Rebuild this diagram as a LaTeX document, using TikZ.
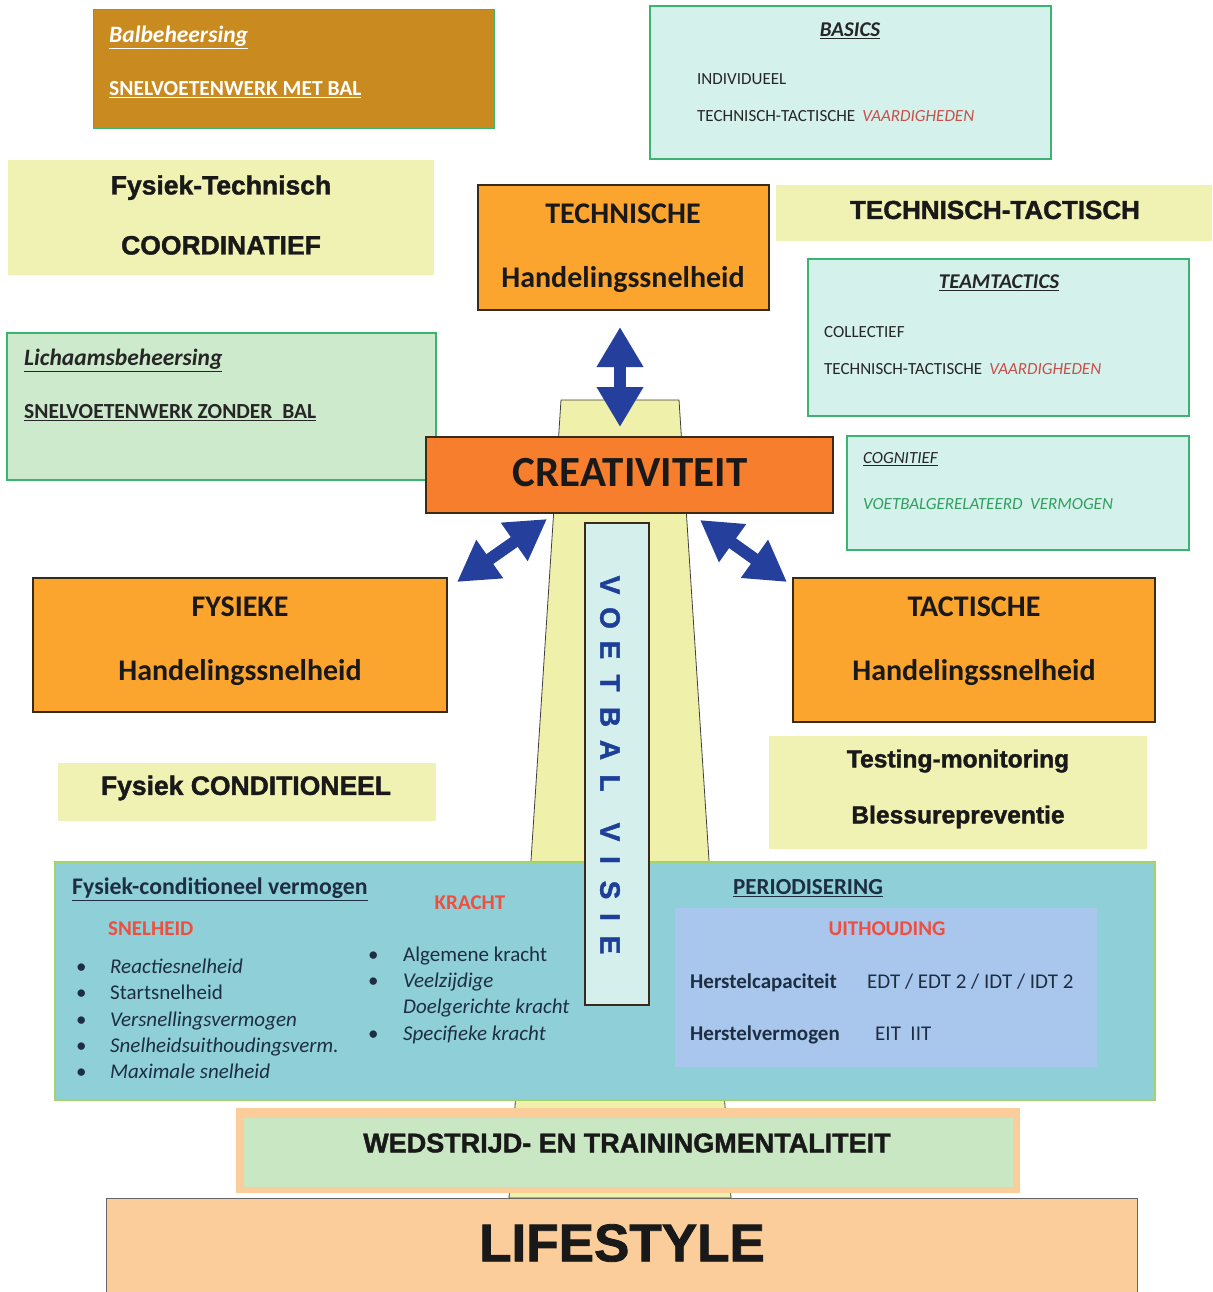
\documentclass[tikz,border=0pt]{standalone}
\usepackage{fontspec}
\setmainfont{Carlito}
\newfontfamily\arialfont[BoldFeatures={FakeBold=1.5}]{Liberation Sans}
\usetikzlibrary{arrows.meta}

\definecolor{goldfill}{HTML}{C98A1F}
\definecolor{tealfill}{HTML}{D4F1EC}
\definecolor{greenfill}{HTML}{CDEBCC}
\definecolor{greenedge}{HTML}{3DB371}
\definecolor{yellowfill}{HTML}{F0F2B3}
\definecolor{pillarfill}{HTML}{EFF0AA}
\definecolor{orangefill}{HTML}{FBA52E}
\definecolor{creatfill}{HTML}{F67E2C}
\definecolor{stripfill}{HTML}{D4EFEC}
\definecolor{bandfill}{HTML}{8FCFD7}
\definecolor{bandedge}{HTML}{A2D46A}
\definecolor{uithfill}{HTML}{A9C7EC}
\definecolor{peach}{HTML}{FBCD9A}
\definecolor{mentalgreen}{HTML}{C9E7C2}
\definecolor{arrowblue}{HTML}{243F9C}
\definecolor{visieblue}{HTML}{1E3F99}
\definecolor{redtxt}{HTML}{F04E3E}
\definecolor{vaard}{HTML}{C8504A}
\definecolor{cogngreen}{HTML}{2F9F5E}
\definecolor{navy}{HTML}{1E2E42}
\definecolor{edgedark}{HTML}{3A2A1A}

\newcommand{\fs}[1]{\fontsize{#1}{#1}\selectfont}

\begin{document}
\begin{tikzpicture}[x=1pt,y=-1pt,
    box/.style={anchor=north west, inner sep=0pt, outer sep=0pt},
    orangebox/.style={box, fill=orangefill, draw=edgedark, line width=1.2pt},
    tealbox/.style={box, fill=tealfill, draw=greenedge, line width=1.2pt},
    yellowbox/.style={box, fill=yellowfill},
    txt/.style={anchor=mid west, inner sep=0pt, yshift=-5pt, text=black!85},
    ctxt/.style={txt, anchor=mid},
    bandtxt/.style={txt, text=navy, font=\fs{21}},
    heavy/.style={align=center, inner sep=0pt, text=black!90},
    bigtxt/.style={heavy, font=\bfseries\fontsize{30}{64}\selectfont},
    visie/.style={rotate=-90, inner sep=0pt, text=visieblue, font=\arialfont\bfseries\fs{28}},
    dblarrow/.style={draw=arrowblue, line width=12pt,
        {Triangle[width=44pt,length=40pt]}-{Triangle[width=44pt,length=40pt]}},
]
\useasboundingbox (0,0) rectangle (1212,1292);

% pillar behind everything
\draw[fill=pillarfill, draw=black!75, line width=0.8pt]
    (561,400) -- (679,400) -- (731,1198) -- (509,1198) -- cycle;

% top left
\node[box, fill=goldfill, draw=greenedge, line width=1pt, minimum width=401, minimum height=119] (bal) at (93,10) {};
\node[txt, text=white, font=\bfseries\itshape\fs{23.5}] (balA) at (109,35) {\underline{Balbeheersing}};
\node[txt, text=white, font=\bfseries\fs{21.5}] (balB) at (109,88) {\underline{SNELVOETENWERK MET BAL}};

\node[yellowbox, minimum width=426, minimum height=115] (fystech) at (8,160) {};
\node[heavy, font=\arialfont\bfseries\fontsize{26.5}{60}\selectfont] (fystechT) at (221,215) {Fysiek-Technisch\\COORDINATIEF};

\node[box, fill=greenfill, draw=greenedge, line width=1.2pt, minimum width=429, minimum height=147] (lich) at (7,333) {};
\node[txt, font=\bfseries\itshape\fs{23.5}] (lichA) at (24,358) {\underline{Lichaamsbeheersing}};
\node[txt, font=\bfseries\fs{21.5}] (lichB) at (24,411) {\underline{SNELVOETENWERK ZONDER\ \ BAL}};

% top right
\node[tealbox, minimum width=401, minimum height=153] (basics) at (650,6) {};
\node[ctxt, font=\bfseries\itshape\fs{21}] (basA) at (850,29) {\underline{BASICS}};
\node[txt, font=\fs{17}] (basB) at (697,77) {INDIVIDUEEL};
\node[txt, font=\fs{17}] (basC) at (697,114) {TECHNISCH-TACTISCHE\hspace{7pt}\textcolor{vaard}{\itshape VAARDIGHEDEN}};

\node[yellowbox, minimum width=436, minimum height=56] (techtact) at (776,185) {};
\node[heavy, font=\arialfont\bfseries\fs{26}] (techtactT) at (995,210) {TECHNISCH-TACTISCH};

\node[tealbox, minimum width=381, minimum height=157] (team) at (808,259) {};
\node[ctxt, font=\bfseries\itshape\fs{21}] (teamA) at (999,281) {\underline{TEAMTACTICS}};
\node[txt, font=\fs{17}] (teamB) at (824,330) {COLLECTIEF};
\node[txt, font=\fs{17}] (teamC) at (824,367) {TECHNISCH-TACTISCHE\hspace{7pt}\textcolor{vaard}{\itshape VAARDIGHEDEN}};

\node[tealbox, minimum width=342, minimum height=114] (cogn) at (847,436) {};
\node[txt, font=\itshape\fs{17}] (cognA) at (863,456) {\underline{COGNITIEF}};
\node[txt, text=cogngreen, font=\itshape\fs{17}] (cognB) at (863,502) {VOETBALGERELATEERD\ \ VERMOGEN};

% centre
\node[orangebox, minimum width=291, minimum height=125] (tech) at (478,185) {};
\node[bigtxt] (techT) at (623,248) {TECHNISCHE\\Handelingssnelheid};

\node[box, fill=creatfill, draw=edgedark, line width=1.2pt, minimum width=407, minimum height=76] (creat) at (426,437) {};
\node[heavy, font=\bfseries\fs{43}] (creatT) at (630,473) {CREATIVITEIT};

\node[orangebox, minimum width=414, minimum height=134] (fys) at (33,578) {};
\node[bigtxt] (fysT) at (240,641) {FYSIEKE\\Handelingssnelheid};

\node[orangebox, minimum width=362, minimum height=144] (tact) at (793,578) {};
\node[bigtxt] (tactT) at (974,641) {TACTISCHE\\Handelingssnelheid};

\node[yellowbox, minimum width=378, minimum height=58] (fyscond) at (58,763) {};
\node[heavy, font=\arialfont\bfseries\fs{26.5}] (fyscondT) at (246,788) {Fysiek CONDITIONEEL};

\node[yellowbox, minimum width=378, minimum height=113] (testing) at (769,736) {};
\node[heavy, font=\arialfont\bfseries\fontsize{24.6}{56}\selectfont] (testingT) at (958,789) {Testing-monitoring\\Blessurepreventie};

% arrows round creativiteit
\coordinate (up1) at ([shift={(-3.5,17)}]tech.south);
\coordinate (up2) at ([shift={(-9.5,-10)}]creat.north);
\draw[dblarrow] (up1) -- (up2);
\draw[dblarrow] ([shift={(10,4)}]fys.north east) -- ([shift={(121,6)}]creat.south west);
\draw[dblarrow] ([shift={(-133,7)}]creat.south east) -- ([shift={(-6,4)}]tact.north west);

% conditioning band
\node[box, fill=bandfill, draw=bandedge, line width=1.5pt, minimum width=1100, minimum height=238] (band) at (55,862) {};
\node[box, fill=uithfill, minimum width=422, minimum height=159] (uith) at (675,908) {};

\node[txt, text=navy, font=\bfseries\fs{23.8}] (fcv) at (72,887) {\underline{Fysiek-conditioneel vermogen}};
\node[txt, text=redtxt, font=\bfseries\fs{21}] (snel) at (108,928) {SNELHEID};
\foreach \t [count=\i] in {\textit{Reactiesnelheid}, Startsnelheid, \textit{Versnellingsvermogen},
        \textit{Snelheidsuithoudingsverm.}, \textit{Maximale snelheid}} {
    \node[bandtxt] (sb\i) at (76,{966+26.3*(\i-1)}) {\textbullet};
    \node[bandtxt] (s\i) at (110,{966+26.3*(\i-1)}) {\t};
}
\node[ctxt, text=redtxt, font=\bfseries\fs{21}] (kracht) at (470,902) {KRACHT};
\foreach \t/\b [count=\i] in {Algemene kracht/1, \textit{Veelzijdige}/1, \textit{Doelgerichte kracht}/0, \textit{Specifieke kracht}/1} {
    \ifnum\b=1 \node[bandtxt] (kb\i) at (368,{954+26.3*(\i-1)}) {\textbullet}; \fi
    \node[bandtxt] (k\i) at (403,{954+26.3*(\i-1)}) {\t};
}
\node[txt, text=navy, font=\bfseries\fs{23}] (period) at (733,887) {\underline{PERIODISERING}};
\node[ctxt, text=redtxt, font=\bfseries\fs{21}] (uithT) at (887,928) {UITHOUDING};
\node[bandtxt, font=\bfseries\fs{21}] (hcap) at (690,981) {Herstelcapaciteit};
\node[bandtxt] (hcapB) at (867,981) {EDT / EDT 2 / IDT / IDT 2};
\node[bandtxt, font=\bfseries\fs{21}] (hverm) at (690,1033) {Herstelvermogen};
\node[bandtxt] (hvermB) at (875,1033) {EIT\ \ IIT};

% voetbal visie strip
\node[box, fill=stripfill, draw=edgedark, line width=1.2pt, minimum width=64, minimum height=482] (strip) at (585,523) {};
\foreach \l/\y [count=\i] in {V/585,O/618,E/650,T/683,B/717,A/750,L/783,V/832,I/860,S/890,I/917,E/945}
    \node[visie] (vv\i) at (610,\y) {\l};

% base
\node[box, fill=peach, minimum width=784, minimum height=85] (mentaal) at (236,1108) {};
\node[box, fill=mentalgreen, minimum width=769, minimum height=69] (mentaalin) at (244,1118) {};
\node[heavy, font=\arialfont\bfseries\fs{27}] (mentaalT) at (627,1143) {WEDSTRIJD- EN TRAININGMENTALITEIT};

\node[box, fill=peach, draw=black!60, line width=1pt, minimum width=1031, minimum height=110] (life) at (106,1198) {};
\node[heavy, font=\arialfont\bfseries\fs{53}] (lifeT) at (622,1243) {LIFESTYLE};
\end{tikzpicture}
\end{document}
